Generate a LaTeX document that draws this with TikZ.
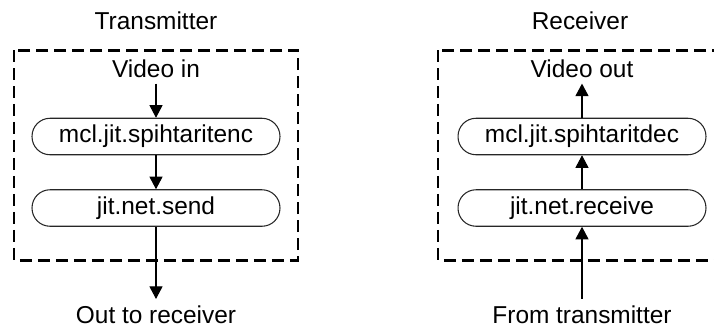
\documentclass[tikz,border=0pt]{standalone}
\usepackage{fontspec}
\setmainfont{Liberation Sans}
\usetikzlibrary{arrows.meta,positioning}
\tikzset{
  pblock/.style={rectangle, rounded corners=0.36cm, draw=black!85, line width=0.6pt,
                 minimum width=4.96cm, minimum height=0.73cm, inner sep=0pt},
  plabel/.style={inner sep=0.12cm},
  pflow/.style ={-{Triangle[length=0.25cm, width=0.26cm]}, line width=0.6pt},
  pframe/.style={line width=1.7pt, dash pattern=on 0.24cm off 0.12cm},
}

\begin{document}
\begin{tikzpicture}[x=0.02cm, y=-0.02cm, font=\fontsize{13.9pt}{16pt}\selectfont]
  \useasboundingbox (0,0) rectangle (714,326);
  % sending side
  \draw[pframe] (14,50) rectangle (298,260);
  \node[plabel, anchor=base] (txtitle) at (156,29) {Transmitter};
  \node[plabel, anchor=base] (txin) at (156,77) {Video in};
  \node[pblock] (txenc) at (156,136.5) {mcl.jit.spihtaritenc};
  \node[pblock] (txsend) at (156,208) {jit.net.send};
  \node[plabel, anchor=base] (txout) at (156,323) {Out to receiver};
  \draw[pflow] (txin) -- (txenc);
  \draw[pflow] (txenc) -- (txsend);
  \draw[pflow] (txsend) -- (txout);
  % receiving side
  \draw[pframe] (438,50) rectangle (722,260);
  \node[plabel, anchor=base] (rxtitle) at (580,29) {Receiver};
  \node[plabel, anchor=base] (rxout) at (582,77) {Video out};
  \node[pblock] (rxdec) at (582,136.5) {mcl.jit.spihtaritdec};
  \node[pblock] (rxrecv) at (582,208) {jit.net.receive};
  \node[plabel, anchor=base] (rxin) at (582,323) {From transmitter};
  \draw[pflow] (rxin) -- (rxrecv);
  \draw[pflow] (rxrecv) -- (rxdec);
  \draw[pflow] (rxdec) -- (rxout);
\end{tikzpicture}
\end{document}
